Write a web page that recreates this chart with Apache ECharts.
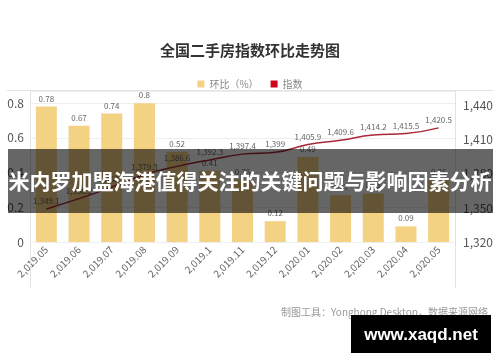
<!DOCTYPE html>
<html><head><meta charset="utf-8">
<script src="https://cdn.jsdelivr.net/npm/echarts@6/dist/echarts.min.js"></script>
<style>html,body{margin:0;padding:0;background:#fff}#c{width:500px;height:362px}</style>
</head><body><div id="c"></div>
<script>
const categories = ["2,019.05","2,019.06","2,019.07","2,019.08","2,019.09","2,019.1","2,019.11","2,019.12","2,020.01","2,020.02","2,020.03","2,020.04","2,020.05"];
const momChange = [0.78,0.67,0.74,0.8,0.52,0.41,0.36,0.12,0.49,0.27,0.28,0.09,0.36];
const indexValues = [1349.1,1358.2,1368.3,1379.3,1386.6,1392.3,1397.4,1399,1405.9,1409.6,1414.2,1415.5,1420.5];
const seriesNames = ["环比（%）","指数"];
const titleText = "全国二手房指数环比走势图";
const bannerText = "米内罗加盟海港值得关注的关键问题与影响因素分析";
const sourceText = "制图工具：Yonghong Desktop，数据来源网络";
const watermarkText = "www.xaqd.net";

const fmtThousands = v => {
  const parts = String(v).split('.');
  parts[0] = parts[0].replace(/\B(?=(\d{3})+(?!\d))/g, ',');
  return parts.join('.');
};
const font = '"Noto Sans CJK SC", "Noto Sans", sans-serif';
const chart = echarts.init(document.getElementById('c'), null, {renderer:'canvas'});
chart.setOption({
  animation:false,
  textStyle:{fontFamily:font},
  title:{text:titleText,left:'center',top:38,textStyle:{fontSize:15,fontWeight:'bold',color:'#333',fontFamily:font}},
  legend:{data:seriesNames,top:74,left:'center',itemWidth:7,itemHeight:7,itemGap:12,icon:'rect',
    textStyle:{fontSize:10,color:'#888',fontFamily:font}},
  grid:{left:30,right:45,top:91,bottom:120,containLabel:false},
  xAxis:{type:'category',data:categories,
    axisLine:{show:false},axisTick:{show:false},
    axisLabel:{rotate:45,fontSize:10,color:'#666',margin:6,interval:0,fontFamily:font}},
  yAxis:[
    {type:'value',min:0,max:0.87,interval:0.2,position:'left',
      axisLine:{show:false},axisTick:{show:false},
      axisLabel:{fontSize:12,color:'#555',margin:6,showMaxLabel:false,fontFamily:font},
      splitLine:{show:true,lineStyle:{color:'#eeeeee',width:1}}},
    {type:'value',min:1320,max:1453,interval:30,position:'right',
      axisLine:{show:false},axisTick:{show:false},
      axisLabel:{fontSize:12,color:'#555',margin:8,showMaxLabel:false,formatter:v=>fmtThousands(v),fontFamily:font},
      splitLine:{show:false}}
  ],
  series:[
    {name:seriesNames[0],type:'bar',data:momChange,yAxisIndex:0,barWidth:21,
      itemStyle:{color:'#F4D283'},
      label:{show:true,position:'top',fontSize:8,color:'#666',distance:4,fontFamily:font}},
    {name:seriesNames[1],type:'line',data:indexValues,yAxisIndex:1,smooth:true,
      symbol:'circle',symbolSize:0,
      lineStyle:{color:'#A8283A',width:1.5},itemStyle:{color:'#D0021B'},
      label:{show:true,position:'top',fontSize:8,color:'#666',distance:4,formatter:p=>fmtThousands(p.value),fontFamily:font}}
  ],
  graphic:[
    {type:'line',z:50,shape:{x1:7,y1:90.5,x2:493,y2:90.5},style:{stroke:'#e2e2e2',lineWidth:1}},
    {type:'line',z:50,shape:{x1:30.5,y1:91,x2:30.5,y2:288},style:{stroke:'#e2e2e2',lineWidth:1}},
    {type:'line',z:50,shape:{x1:455.5,y1:91,x2:455.5,y2:288},style:{stroke:'#e2e2e2',lineWidth:1}},
    {type:'rect',z:100,shape:{x:8,y:149,width:485,height:64},style:{fill:'rgba(0,0,0,0.6)'}},
    {type:'text',z:101,x:250,y:181,style:{text:bannerText,fill:'#fff',font:'bold 21px '+font,textAlign:'center',textVerticalAlign:'middle'}},
    {type:'text',z:100,x:488,y:312,style:{text:sourceText,fill:'#999',font:'10px '+font,textAlign:'right',textVerticalAlign:'middle'}},
    {type:'rect',z:102,shape:{x:351,y:315,width:140,height:38},style:{fill:'#000'}},
    {type:'text',z:103,x:421,y:335,style:{text:watermarkText,fill:'#fff',font:'bold 17px "Liberation Sans", Arial, sans-serif',textAlign:'center',textVerticalAlign:'middle'}}
  ]
});
</script></body></html>
